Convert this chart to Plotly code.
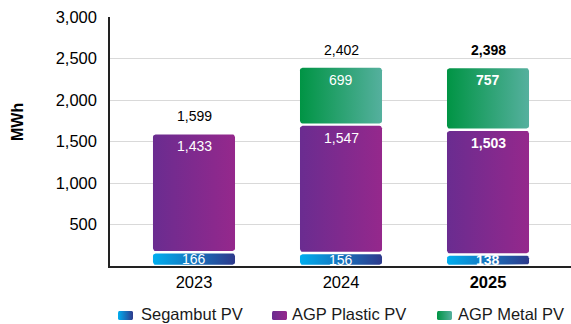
import math
import plotly.graph_objects as go

# Annual generation by site (MWh)
years = ["2023", "2024", "2025"]
segambut = [166, 156, 138]
agp_plastic = [1433, 1547, 1503]
agp_metal = [0, 699, 757]
totals = [1599, 2402, 2398]

series = [
    ("Segambut PV", segambut, "#00aeef", "#2e3a8c"),
    ("AGP Plastic PV", agp_plastic, "#6a2c90", "#95288c"),
    ("AGP Metal PV", agp_metal, "#009444", "#55b09e"),
]

W, H = 571, 324
ML, MR, MT, MB = 110, 0, 17, 0
PLOT_H = H - MT - MB
AXIS_BOTTOM_PX = 266                     # pixel row of the category axis
Y_DOMAIN = [(H - AXIS_BOTTOM_PX) / PLOT_H, 1.0]
X_RANGE = [-0.5714, 2.5646]
Y_RANGE = [0, 3000]
px_x = (W - ML - MR) / (X_RANGE[1] - X_RANGE[0])
px_y = (AXIS_BOTTOM_PX - MT) / (Y_RANGE[1] - Y_RANGE[0])

BAR_W = 0.558
GAP = 1.2 / px_y          # half gap between stacked segments
RAD = 2.5                 # corner radius in pixels


def rounded_rect(x0, x1, y0, y1, rx, ry, n=5):
    pts = []
    corners = [
        (x1 - rx, y1 - ry, 0.0),
        (x0 + rx, y1 - ry, 90.0),
        (x0 + rx, y0 + ry, 180.0),
        (x1 - rx, y0 + ry, 270.0),
    ]
    for cx, cy, a0 in corners:
        for k in range(n + 1):
            a = math.radians(a0 + 90.0 * k / n)
            pts.append((cx + rx * math.cos(a), cy + ry * math.sin(a)))
    pts.append(pts[0])
    return [p[0] for p in pts], [p[1] for p in pts]


fig = go.Figure()
annotations = []
base = [0.0] * len(years)

for name, vals, c0, c1 in series:
    for i, v in enumerate(vals):
        if v <= 0:
            continue
        y0 = base[i] + GAP
        y1 = base[i] + v - GAP
        xs, ys = rounded_rect(i - BAR_W / 2, i + BAR_W / 2, y0, y1,
                              RAD / px_x, RAD / px_y)
        fig.add_trace(go.Scatter(
            x=xs, y=ys, mode="lines", fill="toself",
            line=dict(width=0),
            fillgradient=dict(type="horizontal",
                              colorscale=[[0, c0], [1, c1]]),
            showlegend=False, hoverinfo="skip",
        ))
        label = f"{v:,}"
        if i == 2:
            label = f"<b>{label}</b>"
        if v < 300:
            annotations.append(dict(
                x=i, y=(y0 + y1) / 2, text=label, showarrow=False,
                yanchor="middle", font=dict(size=14, color="white"),
            ))
        else:
            annotations.append(dict(
                x=i, y=y1, text=label, showarrow=False,
                yanchor="top", yshift=-2, font=dict(size=14, color="white"),
            ))
        base[i] += v

for i, t in enumerate(totals):
    label = f"{t:,}"
    if i == 2:
        label = f"<b>{label}</b>"
    annotations.append(dict(
        x=i, y=t, text=label, showarrow=False, yanchor="bottom", yshift=7,
        font=dict(size=14, color="black"),
    ))

# Legend row: gradient swatches on a pixel-scaled helper axis
LEG_Y = 315.5
LEG_SWATCH = [(118, 133), (272, 287), (437, 452)]
LEG_TEXT_X = [139, 290, 456]
leg_y_domain = [0.0, Y_DOMAIN[0] - 0.01]
leg_y_range = [H, H - leg_y_domain[1] * PLOT_H]
for (name, _, c0, c1), (sx0, sx1), tx in zip(series, LEG_SWATCH, LEG_TEXT_X):
    xs, ys = rounded_rect(sx0, sx1, LEG_Y - 4.5, LEG_Y + 4.5, 1.5, 1.5)
    fig.add_trace(go.Scatter(
        x=xs, y=ys, xaxis="x2", yaxis="y2", mode="lines", fill="toself",
        line=dict(width=0),
        fillgradient=dict(type="horizontal", colorscale=[[0, c0], [1, c1]]),
        showlegend=False, hoverinfo="skip",
    ))
    annotations.append(dict(
        x=tx, y=LEG_Y - 2, xref="x2", yref="y2", text=name,
        showarrow=False, xanchor="left", yanchor="middle",
        font=dict(size=16.5, color="#1a1a1a"),
    ))

# Rotated unit label
annotations.append(dict(
    x=(17 - ML) / (W - ML - MR), y=(H - 122) / PLOT_H, xref="paper", yref="paper",
    text="<b>MWh</b>", textangle=-90, showarrow=False,
    xanchor="center", yanchor="middle", font=dict(size=16, color="black"),
))

ticktext = years[:-1] + [f"<b>{years[-1]}</b>"]

fig.update_layout(
    width=W, height=H,
    margin=dict(l=ML, r=MR, t=MT, b=MB),
    paper_bgcolor="white", plot_bgcolor="white",
    font=dict(family="Arial, Liberation Sans, sans-serif", size=16, color="black"),
    annotations=annotations,
    showlegend=False,
    xaxis=dict(
        range=X_RANGE, tickvals=[0, 1, 2], ticktext=ticktext,
        showgrid=False, zeroline=False, showline=True,
        linecolor="#222", linewidth=1.5, ticks="",
        tickfont=dict(size=16.5), fixedrange=True,
    ),
    yaxis=dict(
        domain=Y_DOMAIN,
        range=Y_RANGE, tickvals=[500, 1000, 1500, 2000, 2500, 3000],
        tickformat=",", showgrid=True, gridcolor="#d9d9d9", gridwidth=1,
        zeroline=False, showline=True, linecolor="#222", linewidth=1.5,
        ticks="", ticklabelstandoff=8, tickfont=dict(size=16.5),
        fixedrange=True,
    ),
    xaxis2=dict(
        domain=[0, 1], range=[ML, W - MR], anchor="y2", visible=False,
        fixedrange=True,
    ),
    yaxis2=dict(
        domain=leg_y_domain, range=leg_y_range, anchor="x2", visible=False,
        fixedrange=True,
    ),
)

fig.write_html("out.html")
